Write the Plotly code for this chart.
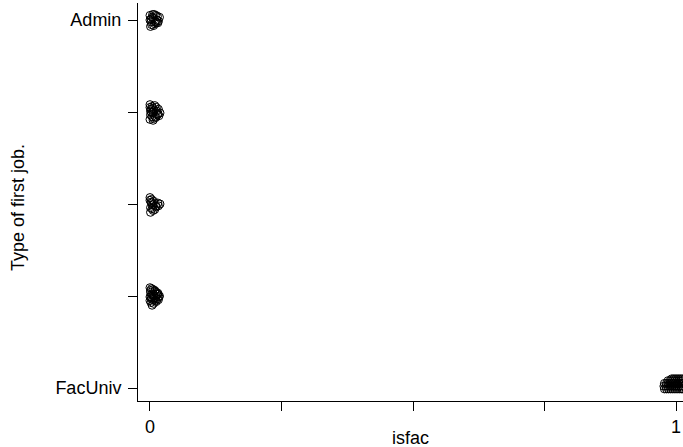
import plotly.graph_objects as go

# Category codes for "Type of first job." (1 = FacUniv ... 5 = Admin)
job_tickvals = [1, 2, 3, 4, 5]
job_ticktext = ["FacUniv", "", "", "", "Admin"]
isfac_tickvals = [0, 0.25, 0.5, 0.75, 1]
isfac_ticktext = ["0", "", "", "", "1"]

admin_x = [0.000, 0.003, 0.006, 0.010, 0.014, 0.018, 0.001, 0.005, 0.009, 0.013,
           0.016, 0.002, 0.007, 0.011, 0.004, 0.012, 0.000, 0.008, 0.015, 0.002]
admin_y = [5.05, 4.95, 5.02, 4.98, 5.04, 5.03, 4.93, 5.06, 4.96, 5.00,
           4.99, 5.01, 4.94, 5.05, 5.03, 4.97, 5.00, 5.06, 4.97, 4.98]

job4_x = [0.000, 0.004, 0.008, 0.012, 0.016, 0.019, 0.001, 0.006, 0.010, 0.015,
          0.002, 0.007, 0.013, 0.017, 0.000, 0.005, 0.011, 0.003, 0.009, 0.014,
          0.001, 0.006, 0.000, 0.004]
job4_y = [4.08, 4.06, 4.02, 4.05, 4.03, 3.99, 3.97, 4.00, 3.95, 3.98,
          4.03, 3.93, 4.01, 3.96, 3.92, 4.04, 3.94, 3.99, 4.07, 3.97,
          4.01, 3.91, 4.05, 3.95]

job3_x = [0.000, 0.003, 0.007, 0.011, 0.015, 0.019, 0.001, 0.005, 0.009, 0.002,
          0.006, 0.012, 0.000, 0.004, 0.016, 0.008, 0.001, 0.003]
job3_y = [3.07, 3.05, 3.03, 2.98, 3.01, 3.00, 2.96, 2.99, 2.94, 3.02,
          2.93, 2.97, 3.04, 2.95, 2.98, 3.00, 2.91, 3.01]

job2_x = [0.000, 0.003, 0.006, 0.009, 0.012, 0.015, 0.018, 0.001, 0.004, 0.008,
          0.011, 0.014, 0.017, 0.000, 0.005, 0.010, 0.013, 0.016, 0.002, 0.007,
          0.012, 0.015, 0.001, 0.004, 0.009, 0.002, 0.006, 0.000, 0.003, 0.008]
job2_y = [2.09, 2.08, 2.07, 2.05, 2.04, 2.02, 2.00, 2.04, 2.02, 2.00,
          1.98, 1.97, 1.99, 1.99, 1.96, 1.95, 2.02, 1.96, 1.93, 1.92,
          1.94, 2.03, 2.06, 1.90, 2.06, 1.99, 2.01, 1.95, 1.97, 1.98]

fac_x = [0.978, 0.982, 0.986, 0.990, 0.994, 0.998, 1.002, 1.006, 1.010, 1.013,
         0.977, 0.981, 0.985, 0.989, 0.993, 0.997, 1.001, 1.005, 1.009, 1.013,
         0.978, 0.982, 0.986, 0.990, 0.994, 0.998, 1.002, 1.006, 1.010, 1.013,
         0.985, 0.989, 0.993, 0.997, 1.001, 1.005, 1.009, 1.013,
         0.992, 0.996, 1.000, 1.004, 1.008, 1.012]
fac_y = [0.99, 0.99, 0.99, 0.99, 0.99, 0.99, 0.99, 0.99, 0.99, 0.99,
         1.02, 1.02, 1.02, 1.02, 1.02, 1.02, 1.02, 1.02, 1.02, 1.02,
         1.05, 1.05, 1.05, 1.05, 1.05, 1.05, 1.05, 1.05, 1.05, 1.05,
         1.08, 1.08, 1.08, 1.08, 1.08, 1.08, 1.08, 1.08,
         1.10, 1.10, 1.10, 1.10, 1.10, 1.10]

xs = admin_x + job4_x + job3_x + job2_x + fac_x
ys = admin_y + job4_y + job3_y + job2_y + fac_y

W, H = 683, 447
L, R, T, B = 138, 0, 3, 46
pw, ph = W - L - R, H - T - B

font = dict(family="Liberation Sans, Arial, sans-serif", size=18, color="black")

fig = go.Figure(go.Scatter(
    x=xs, y=ys, mode="markers",
    marker=dict(symbol="circle-open", size=8, color="black", line=dict(width=1, color="black")),
    cliponaxis=True, showlegend=False,
))

fig.update_layout(
    width=W, height=H,
    margin=dict(l=L, r=R, t=T, b=B, autoexpand=False),
    paper_bgcolor="white", plot_bgcolor="white",
    font=font,
    xaxis=dict(range=[-0.0228, 1.0133], tickvals=isfac_tickvals, ticktext=isfac_ticktext,
               showgrid=False, zeroline=False, showline=True, linecolor="black", linewidth=1,
               ticks="outside", ticklen=9, tickcolor="black", tickwidth=1, tickfont=font),
    yaxis=dict(range=[0.8587, 5.185], tickvals=job_tickvals, ticktext=job_ticktext,
               showgrid=False, zeroline=False, showline=True, linecolor="black", linewidth=1,
               ticks="outside", ticklen=9, tickcolor="black", tickwidth=1, tickfont=font,
               ticklabelstandoff=3),
    annotations=[
        dict(text="isfac", xref="paper", yref="paper", x=0.5, y=(401 - 438) / ph,
             xanchor="center", yanchor="middle", showarrow=False, font=font),
        dict(text="Type of first job.", xref="paper", yref="paper", x=(18 - L) / pw,
             y=(401 - 208) / ph, xanchor="center", yanchor="middle", textangle=-90,
             showarrow=False, font=font),
    ],
)

fig.write_html("out.html", config={"displayModeBar": False},
               post_script="document.body.style.margin='0';")
